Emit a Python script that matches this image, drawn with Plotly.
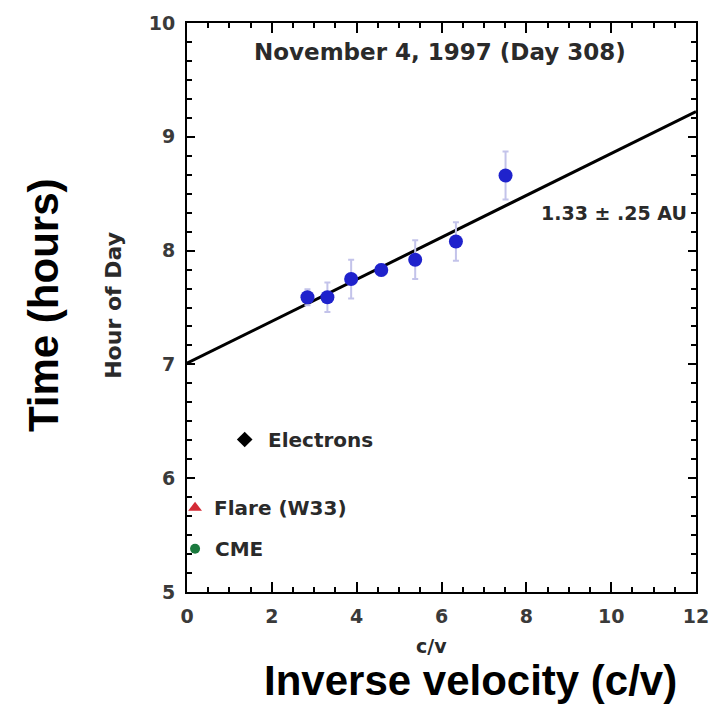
import plotly.graph_objects as go

# Inverse velocity (c/v) of each energy channel and its onset hour
inv_velocity = [2.84, 3.31, 3.87, 4.58, 5.38, 6.34, 7.51]
onset_hour = [7.59, 7.59, 7.75, 7.83, 7.92, 8.08, 8.66]
onset_err = [0.07, 0.13, 0.17, 0.05, 0.17, 0.17, 0.21]

# Velocity-dispersion fit: path length (AU) and release hour at c/v = 0
path_au = 1.33
release_hour = 7.01
light_hours_per_au = 499.0 / 3600.0
fit_x = [0, 12]

# Reference event times
electron_cv, electron_hour = [1.36], [6.34]
flare_cv, flare_hour = [0.19], [5.74]
cme_cv, cme_hour = [0.19], [5.38]

x_ticks = [0, 2, 4, 6, 8, 10, 12]
y_ticks = [5, 6, 7, 8, 9, 10]
x_range = [0, 12]
y_range = [5, 10]

slope = path_au * light_hours_per_au
fit_y = [release_hour + slope * x for x in fit_x]

inner = "DejaVu Sans"
ink = "#2a2a2a"

fig = go.Figure()

fig.add_trace(go.Scatter(
    x=fit_x, y=fit_y, mode="lines",
    line=dict(color="black", width=3), showlegend=False, hoverinfo="skip"))

fig.add_trace(go.Scatter(
    x=inv_velocity, y=onset_hour, mode="markers",
    marker=dict(color="#1f22cc", size=14),
    error_y=dict(type="data", array=onset_err, visible=True,
                 color="#c3c3ea", thickness=2, width=3),
    showlegend=False))

fig.add_trace(go.Scatter(
    x=electron_cv, y=electron_hour, mode="markers",
    marker=dict(symbol="diamond", color="black", size=12), showlegend=False))
fig.add_trace(go.Scatter(
    x=flare_cv, y=flare_hour, mode="markers",
    marker=dict(symbol="triangle-up", color="#d42a35", size=12), showlegend=False))
fig.add_trace(go.Scatter(
    x=cme_cv, y=cme_hour, mode="markers",
    marker=dict(symbol="circle", color="#1b7a3e", size=10), showlegend=False))

# Empty trace that carries the mirrored top/right frame axes
fig.add_trace(go.Scatter(x=[None], y=[None], xaxis="x2", yaxis="y2",
                         showlegend=False, hoverinfo="skip"))

label_font = dict(family=inner, size=20, color=ink, weight="bold")
annotations = [
    dict(x=0.497, y=0.949, xref="paper", yref="paper", showarrow=False,
         xanchor="center", yanchor="middle",
         text="November 4, 1997 (Day 308)",
         font=dict(family=inner, size=23, color=ink, weight="bold")),
    dict(x=11.83, y=8.33, xref="x", yref="y", showarrow=False,
         xanchor="right", yanchor="middle",
         text=f"{path_au:.2f} \u00b1 .25 AU",
         font=dict(family=inner, size=19, color=ink, weight="bold")),
    dict(x=electron_cv[0] + 0.5, y=electron_hour[0], xref="x", yref="y",
         showarrow=False, xanchor="left", yanchor="middle",
         text="Electrons", font=label_font),
    dict(x=flare_cv[0] + 0.4, y=flare_hour[0], xref="x", yref="y",
         showarrow=False, xanchor="left", yanchor="middle",
         text="Flare (W33)", font=label_font),
    dict(x=cme_cv[0] + 0.42, y=cme_hour[0], xref="x", yref="y",
         showarrow=False, xanchor="left", yanchor="middle",
         text="CME", font=label_font),
    dict(x=-0.1448, y=0.5035, xref="paper", yref="paper", showarrow=False,
         xanchor="center", yanchor="middle", textangle=-90, text="Hour of Day",
         font=dict(family=inner, size=22, color=ink, weight="bold")),
    dict(x=0.4795, y=-0.0947, xref="paper", yref="paper", showarrow=False,
         xanchor="center", yanchor="middle", borderpad=0,
         text="c/v", font=dict(family=inner, size=19, color=ink, weight="bold")),
    dict(x=-0.2818, y=0.5035, xref="paper", yref="paper", showarrow=False,
         xanchor="center", yanchor="middle", textangle=-90, text="Time (hours)",
         font=dict(family="Liberation Sans", size=42, color="black", weight="bold")),
    dict(x=0.557, y=-0.1982, xref="paper", yref="paper", showarrow=False,
         xanchor="center", yanchor="bottom", borderpad=0,
         text="Inverse velocity (c/v)",
         font=dict(family="Liberation Sans", size=42, color="black", weight="bold")),
]

tick_font = dict(family=inner, size=19, color="#3a3a3a", weight="bold")


def x_axis_style(**extra):
    style = dict(range=x_range, tickvals=x_ticks, ticks="inside", ticklen=10,
                 tickwidth=1.5, tickcolor="black", showgrid=False, zeroline=False,
                 showline=True, linecolor="black", linewidth=2,
                 minor=dict(dtick=0.5, ticks="inside", ticklen=5, tickwidth=1.5,
                            tickcolor="black", showgrid=False))
    style.update(extra)
    return style


def y_axis_style(**extra):
    style = dict(range=y_range, tickvals=y_ticks, ticks="inside", ticklen=8,
                 tickwidth=1.5, tickcolor="black", showgrid=False, zeroline=False,
                 showline=True, linecolor="black", linewidth=2,
                 minor=dict(dtick=1 / 6, ticks="inside", ticklen=5, tickwidth=1.5,
                            tickcolor="black", showgrid=False))
    style.update(extra)
    return style


fig.update_layout(
    width=721, height=705,
    margin=dict(l=187, r=23, t=22, b=113),
    paper_bgcolor="white", plot_bgcolor="white",
    annotations=annotations,
    xaxis=x_axis_style(tickfont=tick_font, ticklabelstandoff=6),
    yaxis=y_axis_style(tickfont=tick_font, ticklabelstandoff=6),
    xaxis2=x_axis_style(overlaying="x", side="top", anchor="y2",
                        showticklabels=False),
    yaxis2=y_axis_style(overlaying="y", side="right", anchor="x2",
                        showticklabels=False),
)

fig.write_html("out.html")
